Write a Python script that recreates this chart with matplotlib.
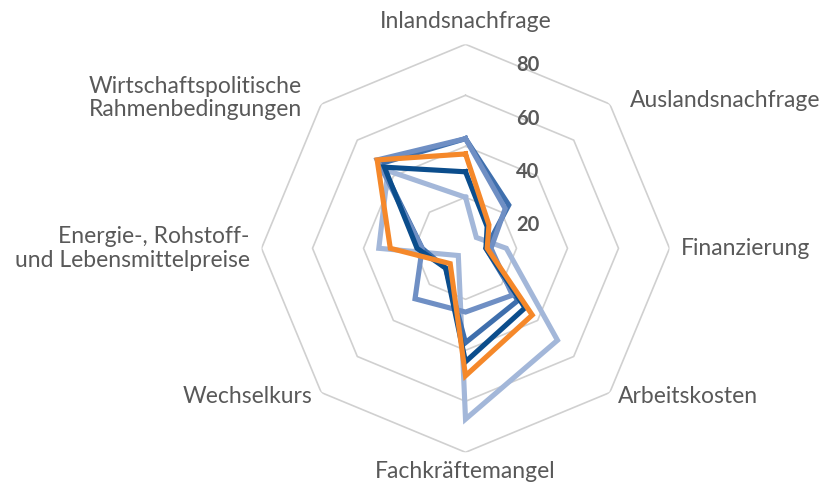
import matplotlib
matplotlib.use("Agg")
import matplotlib.pyplot as plt
import numpy as np

# Daten
kategorien = ["Inlandsnachfrage", "Auslandsnachfrage", "Finanzierung", "Arbeitskosten",
              "Fachkräftemangel", "Wechselkurs", "Energie-, Rohstoff-\nund Lebensmittelpreise",
              "Wirtschaftspolitische\nRahmenbedingungen"]

serie_hellblau = [20, 6, 16, 51, 67, 4, 34, 43]
serie_mittel = [43, 24, 8, 29, 37, 11, 17, 47]
serie_mittelhell = [43, 22, 10, 26, 25, 28, 17, 49]
serie_dunkelblau = [30, 12, 8, 33, 44.5, 11, 19, 45]
serie_orange = [37, 13, 8.5, 37, 50, 8.5, 29.5, 49]

ringe = [20, 40, 60, 80]

serien = [serie_hellblau, serie_mittel, serie_mittelhell, serie_dunkelblau, serie_orange]
farben = ["#a3b7d9", "#3f6fad", "#6f8fc4", "#0b4d8c", "#f5882a"]

grau = "#595959"
plt.rcParams["font.family"] = ["Lato", "DejaVu Sans"]

fig = plt.figure(figsize=(8.27, 4.82), dpi=100)
ax = fig.add_axes([0.3162, 0.0616, 0.4934, 0.8465], projection="polar")
ax.set_theta_zero_location("N")
ax.set_theta_direction(-1)
ax.set_ylim(0, 80)
ax.axis("off")

n = len(kategorien)
winkel = np.linspace(0, 2 * np.pi, n, endpoint=False)
winkel_zu = np.append(winkel, winkel[0])

# achteckige Gitternetzlinien
for r in ringe:
    ax.plot(winkel_zu, [r] * (n + 1), color="#d0d0d0", lw=1.2, zorder=1)

# Datenreihen
for werte, farbe in zip(serien, farben):
    ax.plot(winkel_zu, werte + [werte[0]], color=farbe, lw=3.7,
            solid_joinstyle="miter", zorder=2)

# Achsenbeschriftung (Werte)
for r in ringe:
    ax.annotate(str(r), xy=(0, r), xytext=(62, -(21 + (80 - r) * 0.115)),
                textcoords="offset pixels", ha="center", va="center",
                fontsize=14.5, fontweight="bold", color=grau, zorder=3)

# Kategorien
versatz = [(0, 23, "center"), (20, 4, "left"), (11, 0, "left"), (8, -4, "left"),
           (0, -19, "center"), (-9, -4, "right"), (-12, 0, "right"), (-19, 6, "right")]
for w, name, (dx, dy, ha) in zip(winkel, kategorien, versatz):
    ax.annotate(name, xy=(w, 80), xytext=(dx, dy), textcoords="offset pixels",
                ha=ha, va="center", multialignment="right" if ha == "right" else "center",
                fontsize=16.5, color=grau, linespacing=1.15)

plt.savefig("out.png", dpi=100)
